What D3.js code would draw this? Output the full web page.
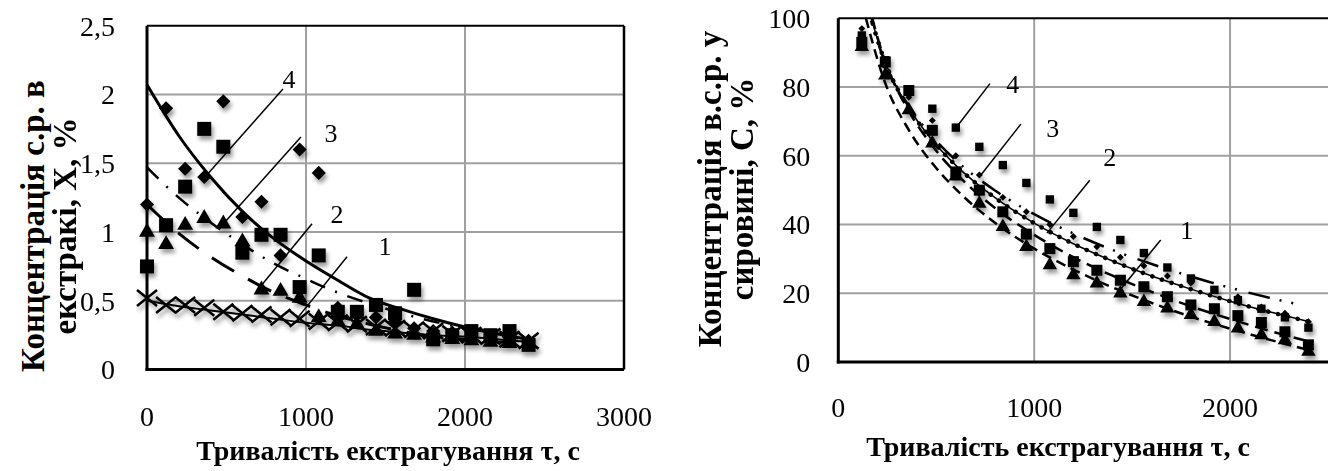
<!DOCTYPE html>
<html>
<head>
<meta charset="utf-8">
<script src="https://cdn.jsdelivr.net/npm/d3@7"></script>
<style>
body { margin: 0; background: #fff; }
text { font-family: "Liberation Serif", "Times New Roman", serif; fill: #000; }
</style>
</head>
<body>
<div id="container"></div>
<script>
// ---- left chart: concentration in extract X, % ----
var tauLeft = [0, 120, 240, 360, 480, 600, 720, 840, 960, 1080, 1200, 1320, 1440, 1560, 1680, 1800, 1920, 2040, 2160, 2280, 2400];
var xCross   = [0.52, 0.47, 0.47, 0.45, 0.42, 0.41, 0.40, 0.38, 0.37, 0.35, 0.34, 0.33, 0.31, 0.30, 0.29, 0.28, 0.26, 0.25, 0.24, 0.22, 0.21];
var xTri     = [1.00, 0.91, 1.05, 1.10, 1.06, 0.93, 0.58, 0.57, 0.52, 0.38, 0.35, 0.33, 0.28, 0.26, 0.25, 0.23, 0.22, 0.21, 0.20, 0.19, 0.19];
var xSquare  = [0.75, 1.05, 1.33, 1.75, 1.62, 0.85, 0.98, 0.98, 0.60, 0.83, 0.42, 0.42, 0.47, 0.41, 0.58, 0.22, 0.25, 0.28, 0.25, 0.28, 0.18];
var xDiamond = [1.20, 1.90, 1.46, 1.40, 1.95, 1.11, 1.22, 0.83, 1.60, 1.43, 0.45, 0.40, 0.38, 0.35, 0.30, 0.28, 0.27, 0.25, 0.24, 0.22, 0.21];

// trend lines
var fitTauLeft = [0, 200, 400, 600, 800, 1000, 1200, 1400, 1600, 1800, 2000, 2200, 2400];
var fitLeft1 = [0.50, 0.46, 0.43, 0.40, 0.37, 0.34, 0.32, 0.29, 0.27, 0.25, 0.24, 0.22, 0.20];
var fitLeft2 = [1.20, 0.99, 0.82, 0.68, 0.56, 0.47, 0.39, 0.33, 0.28, 0.24, 0.22, 0.20, 0.19];
var fitLeft3 = [1.47, 1.25, 1.07, 0.91, 0.77, 0.66, 0.56, 0.48, 0.41, 0.35, 0.30, 0.25, 0.22];
var fitLeft4 = [2.07, 1.70, 1.40, 1.15, 0.95, 0.79, 0.65, 0.52, 0.44, 0.37, 0.31, 0.26, 0.22];

var leftXTicks = [0, 1000, 2000, 3000];
var leftYTicks = [0, 0.5, 1, 1.5, 2, 2.5];

// ---- right chart: concentration in raw material C, % ----
var tauRight = [120, 240, 360, 480, 600, 720, 840, 960, 1080, 1200, 1320, 1440, 1560, 1680, 1800, 1920, 2040, 2160, 2280, 2400];
var cTri    = [91.7, 83.4, 73.3, 63.6, 54.0, 46.1, 39.3, 33.5, 28.2, 25.3, 22.9, 20.0, 17.5, 15.6, 13.7, 11.7, 9.8, 7.8, 6.4, 3.0];
var cSquare = [93.0, 87.3, 79.0, 67.4, 55.3, 50.0, 43.7, 37.2, 33.0, 29.2, 26.7, 23.8, 21.9, 19.0, 16.6, 15.5, 13.5, 11.5, 8.8, 5.0];
var cDot    = [97.0, 86.0, 77.0, 70.3, 60.0, 54.4, 47.9, 43.7, 40.0, 36.5, 33.5, 30.5, 28.0, 25.0, 23.0, 21.0, 19.0, 16.0, 14.2, 11.7];
var cStar   = [95.0, 87.8, 79.0, 73.7, 68.2, 62.6, 57.3, 52.1, 47.3, 43.4, 39.3, 35.5, 31.7, 27.5, 24.3, 21.0, 18.0, 15.5, 13.0, 10.0];

var fitTauRight = [120, 240, 360, 480, 600, 800, 1000, 1200, 1400, 1600, 1800, 2000, 2200, 2400];
var fitTauRight4 = [120, 240, 360, 480, 600, 800, 1000, 1200, 1400, 1600, 1800, 2000, 2200, 2360];
var fitRight1 = [104.5, 81.1, 67.5, 57.8, 50.3, 40.5, 33.0, 26.9, 21.7, 17.2, 13.2, 9.7, 6.5, 3.5];
var fitRight2 = [111.8, 87.3, 73.0, 62.9, 55.0, 44.8, 37.0, 30.5, 25.1, 20.4, 16.2, 12.5, 9.1, 6.0];
var fitRight3 = [109.8, 87.1, 73.9, 64.5, 57.2, 47.8, 40.4, 34.4, 29.4, 25.0, 21.2, 17.7, 14.6, 11.8];
var fitRight4 = [108.3, 87.0, 74.5, 65.6, 58.7, 49.9, 43.0, 37.4, 32.6, 28.5, 24.9, 21.6, 18.7, 16.6];

var rightXTicks = [0, 1000, 2000];
var rightYTicks = [0, 20, 40, 60, 80, 100];

var xTitle = "Тривалість екстрагування τ, с";
var leftYTitle = ["Концентрація с.р. в", "екстракі, Х, %"];
var rightYTitle = ["Концентрація в.с.р. у", "сировині, С, %"];

var fmt = d3.formatLocale({decimal: ",", thousands: " ", grouping: [3], currency: ["", ""]}).format("~g");

var svg = d3.select("#container")
  .append("svg")
  .attr("width", 1328)
  .attr("height", 471);

var defs = svg.append("defs");
defs.append("filter")
  .attr("id", "shadow")
  .attr("x", "-60%").attr("y", "-60%")
  .attr("width", "220%").attr("height", "220%")
  .append("feDropShadow")
  .attr("dx", 2).attr("dy", 4)
  .attr("stdDeviation", 2)
  .attr("flood-color", "#000")
  .attr("flood-opacity", 0.4);

function zip(xs, ys) {
  return xs.map(function(t, i) { return [t, ys[i]]; });
}

function drawPanel(p) {
  var x = d3.scaleLinear().domain(p.xDomain).range(p.xRange);
  var y = d3.scaleLinear().domain(p.yDomain).range(p.yRange);
  var g = svg.append("g");

  defs.append("clipPath")
    .attr("id", p.id + "-clip")
    .append("rect")
    .attr("x", p.xRange[0]).attr("y", p.yRange[1])
    .attr("width", p.xRange[1] - p.xRange[0])
    .attr("height", p.yRange[0] - p.yRange[1]);

  // grid
  g.append("g").selectAll("line")
    .data(p.yTicks.filter(function(v) { return v > p.yDomain[0] && v < p.yDomain[1]; }))
    .enter().append("line")
    .attr("x1", p.xRange[0]).attr("x2", p.xRange[1])
    .attr("y1", function(d) { return y(d); })
    .attr("y2", function(d) { return y(d); })
    .attr("stroke", "#a0a0a0").attr("stroke-width", 2);
  g.append("g").selectAll("line")
    .data(p.xTicks.filter(function(v) { return v > p.xDomain[0] && v < p.xDomain[1]; }))
    .enter().append("line")
    .attr("y1", p.yRange[0]).attr("y2", p.yRange[1])
    .attr("x1", function(d) { return x(d); })
    .attr("x2", function(d) { return x(d); })
    .attr("stroke", "#a0a0a0").attr("stroke-width", 2);

  // frame
  g.append("line")
    .attr("x1", p.xRange[0]).attr("x2", p.xRange[1])
    .attr("y1", p.yRange[1]).attr("y2", p.yRange[1])
    .attr("stroke", "#000").attr("stroke-width", 2);
  if (p.rightBorder) {
    g.append("line")
      .attr("x1", p.xRange[1]).attr("x2", p.xRange[1])
      .attr("y1", p.yRange[1]).attr("y2", p.yRange[0])
      .attr("stroke", "#000").attr("stroke-width", 2.5);
  }

  // trend lines
  var lg = g.append("g").attr("clip-path", "url(#" + p.id + "-clip)");
  var line = d3.line()
    .x(function(d) { return x(d[0]); })
    .y(function(d) { return y(d[1]); })
    .curve(d3.curveMonotoneX);
  p.lines.forEach(function(l) {
    lg.append("path")
      .datum(zip(l.tau, l.vals))
      .attr("d", line)
      .attr("fill", "none")
      .attr("stroke", "#000")
      .attr("stroke-width", l.width)
      .attr("stroke-dasharray", l.dash || null)
      .attr("stroke-linecap", l.cap || "butt");
  });

  // markers
  var mg = g.append("g").attr("filter", "url(#shadow)");
  p.series.forEach(function(s) {
    var pts = zip(s.tau, s.vals);
    if (s.cross) {
      mg.append("g").selectAll("path")
        .data(pts)
        .enter().append("path")
        .attr("d", function(d) {
          var cx = x(d[0]), cy = y(d[1]), w = s.w, h = s.h;
          return "M" + (cx - w) + "," + (cy - h) + "L" + (cx + w) + "," + (cy + h) +
                 "M" + (cx - w) + "," + (cy + h) + "L" + (cx + w) + "," + (cy - h);
        })
        .attr("stroke", "#000").attr("stroke-width", 2.5).attr("fill", "none");
    } else {
      var sym = d3.symbol().type(s.type).size(s.size);
      mg.append("g").selectAll("path")
        .data(pts)
        .enter().append("path")
        .attr("transform", function(d) { return "translate(" + x(d[0]) + "," + y(d[1]) + ")" + (s.rotate ? "rotate(45)" : ""); })
        .attr("d", sym)
        .attr("fill", "#000");
    }
  });

  // axis lines (drawn over markers)
  g.append("line")
    .attr("x1", p.xRange[0]).attr("x2", p.xRange[0])
    .attr("y1", p.yRange[1]).attr("y2", p.yRange[0] + 1.5)
    .attr("stroke", "#000").attr("stroke-width", 3);
  g.append("line")
    .attr("x1", p.xRange[0] - 1.5).attr("x2", p.xRange[1])
    .attr("y1", p.yRange[0]).attr("y2", p.yRange[0])
    .attr("stroke", "#000").attr("stroke-width", 3);

  // tick labels
  g.append("g").selectAll("text")
    .data(p.yTicks)
    .enter().append("text")
    .attr("x", p.xRange[0] - p.yLabelGap)
    .attr("y", function(d) { return y(d); })
    .attr("dy", "0.35em")
    .attr("text-anchor", "end")
    .style("font-size", "28px")
    .text(function(d) { return fmt(d); });
  g.append("g").selectAll("text")
    .data(p.xTicks)
    .enter().append("text")
    .attr("x", function(d) { return x(d); })
    .attr("y", p.xTickY)
    .attr("text-anchor", "middle")
    .style("font-size", "28px")
    .text(function(d) { return fmt(d); });

  // titles
  g.append("text")
    .attr("x", p.xTitleX)
    .attr("y", p.xTitleY)
    .attr("text-anchor", "middle")
    .style("font-size", "28px")
    .style("font-weight", "bold")
    .text(xTitle);
  p.yTitle.forEach(function(t, i) {
    g.append("text")
      .attr("transform", "translate(" + p.yTitleX[i] + "," + p.yTitleY + ")rotate(-90)")
      .attr("text-anchor", "middle")
      .style("font-size", "33px")
      .style("font-weight", "bold")
      .text(t);
  });

  // curve numbers with leader lines
  p.notes.forEach(function(n) {
    g.append("line")
      .attr("x1", x(n.from[0])).attr("y1", y(n.from[1]))
      .attr("x2", x(n.to[0])).attr("y2", y(n.to[1]))
      .attr("stroke", "#000").attr("stroke-width", 1.5);
    g.append("text")
      .attr("x", x(n.at[0])).attr("y", y(n.at[1]))
      .attr("dy", "0.35em")
      .attr("text-anchor", "middle")
      .style("font-size", "26px")
      .text(n.label);
  });
}

drawPanel({
  id: "left",
  xDomain: [0, 3000], xRange: [147, 624],
  yDomain: [0, 2.5], yRange: [369.6, 25.7],
  xTicks: leftXTicks, yTicks: leftYTicks,
  rightBorder: true,
  yLabelGap: 32,
  xTickY: 426, xTitleX: 388, xTitleY: 460,
  yTitle: leftYTitle, yTitleX: [44, 76], yTitleY: 226,
  lines: [
    {tau: fitTauLeft, vals: fitLeft1, width: 2},
    {tau: fitTauLeft, vals: fitLeft2, width: 3, dash: "26 16"},
    {tau: fitTauLeft, vals: fitLeft3, width: 2.5, dash: "16 11 2 11"},
    {tau: fitTauLeft, vals: fitLeft4, width: 3}
  ],
  series: [
    {tau: tauLeft, vals: xCross, cross: true, w: 10, h: 8},
    {tau: tauLeft, vals: xTri, type: d3.symbolTriangle, size: 110},
    {tau: tauLeft, vals: xSquare, type: d3.symbolSquare, size: 196},
    {tau: tauLeft, vals: xDiamond, type: d3.symbolSquare, size: 100, rotate: true}
  ],
  notes: [
    {label: "4", at: [893, 2.11], from: [855, 2.04], to: [365, 1.40]},
    {label: "3", at: [1157, 1.72], from: [968, 1.69], to: [472, 1.05]},
    {label: "2", at: [1195, 1.13], from: [1038, 1.06], to: [711, 0.60]},
    {label: "1", at: [1497, 0.90], from: [1258, 0.82], to: [943, 0.37]}
  ]
});

drawPanel({
  id: "right",
  xDomain: [0, 2500], xRange: [838.3, 1328],
  yDomain: [0, 100], yRange: [362, 18.3],
  xTicks: rightXTicks, yTicks: rightYTicks,
  rightBorder: false,
  yLabelGap: 28,
  xTickY: 417, xTitleX: 1058, xTitleY: 456,
  yTitle: rightYTitle, yTitleX: [721, 753], yTitleY: 189,
  lines: [
    {tau: fitTauRight, vals: fitRight1, width: 2.5, dash: "10 6"},
    {tau: fitTauRight, vals: fitRight2, width: 2.5, dash: "13 7"},
    {tau: fitTauRight, vals: fitRight3, width: 1.5},
    {tau: fitTauRight, vals: fitRight3, width: 4.5, dash: "0.1 10", cap: "round"},
    {tau: fitTauRight4, vals: fitRight4, width: 2.5, dash: "22 10 2 10 2 12"}
  ],
  series: [
    {tau: tauRight, vals: cTri, type: d3.symbolTriangle, size: 90},
    {tau: tauRight, vals: cSquare, type: d3.symbolSquare, size: 121},
    {tau: tauRight, vals: cStar, type: d3.symbolSquare, size: 70},
    {tau: tauRight, vals: cDot, type: d3.symbolSquare, size: 24, rotate: true}
  ],
  notes: [
    {label: "4", at: [891, 81], from: [774, 81], to: [611, 68.9]},
    {label: "3", at: [1095, 68], from: [932, 69.2], to: [728, 54.4]},
    {label: "2", at: [1386, 59.6], from: [1284, 52.9], to: [1065, 37.5]},
    {label: "1", at: [1779, 38.4], from: [1646, 35.5], to: [1437, 20.9]}
  ]
});
</script>
</body>
</html>
